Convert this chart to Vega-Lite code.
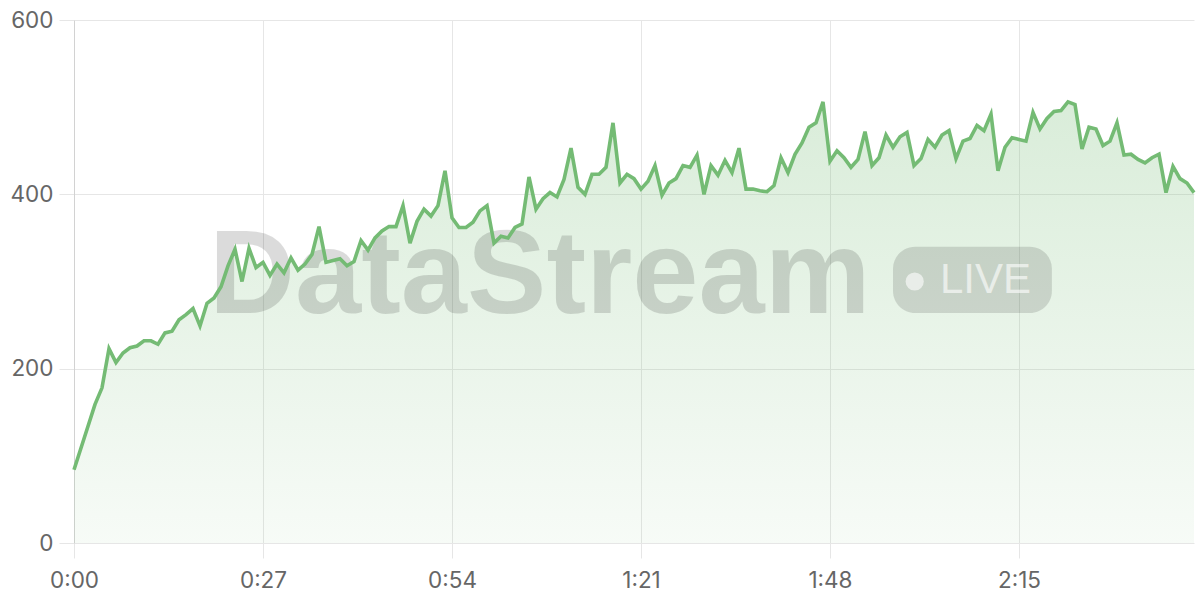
{
  "$schema": "https://vega.github.io/schema/vega-lite/v6.json",
  "width": 1120,
  "height": 523,
  "autosize": {"type": "none"},
  "padding": {"left": 74, "top": 20, "right": 6, "bottom": 57},
  "background": "#ffffff",
  "config": {
    "view": {"stroke": null},
    "axis": {
      "labelFont": "Inter",
      "labelFontSize": 22.5,
      "labelColor": "#666666",
      "gridColor": "#e6e6e6",
      "tickColor": "#e6e6e6",
      "tickSize": 15,
      "labelFlush": false,
      "labelOverlap": false,
      "title": null
    }
  },
  "datasets": {
    "series": [
      {"t":0,"v":84},{"t":1,"v":109},{"t":2,"v":134},{"t":3,"v":159},{"t":4,"v":178},{"t":5,"v":223},{"t":6,"v":207},{"t":7,"v":218},{"t":8,"v":224},{"t":9,"v":226},
      {"t":10,"v":232},{"t":11,"v":232},{"t":12,"v":228},{"t":13,"v":241},{"t":14,"v":243},{"t":15,"v":256},{"t":16,"v":262},{"t":17,"v":269},{"t":18,"v":249},{"t":19,"v":275},
      {"t":20,"v":281},{"t":21,"v":294},{"t":22,"v":318},{"t":23,"v":337},{"t":24,"v":300},{"t":25,"v":338},{"t":26,"v":316},{"t":27,"v":322},{"t":28,"v":307},{"t":29,"v":320},
      {"t":30,"v":310},{"t":31,"v":327},{"t":32,"v":313},{"t":33,"v":320},{"t":34,"v":331},{"t":35,"v":363},{"t":36,"v":322},{"t":37,"v":324},{"t":38,"v":326},{"t":39,"v":318},
      {"t":40,"v":323},{"t":41,"v":347},{"t":42,"v":336},{"t":43,"v":350},{"t":44,"v":358},{"t":45,"v":363},{"t":46,"v":363},{"t":47,"v":387},{"t":48,"v":344},{"t":49,"v":369},
      {"t":50,"v":383},{"t":51,"v":375},{"t":52,"v":387},{"t":53,"v":427},{"t":54,"v":373},{"t":55,"v":362},{"t":56,"v":362},{"t":57,"v":368},{"t":58,"v":381},{"t":59,"v":387},
      {"t":60,"v":344},{"t":61,"v":352},{"t":62,"v":350},{"t":63,"v":362},{"t":64,"v":366},{"t":65,"v":420},{"t":66,"v":383},{"t":67,"v":395},{"t":68,"v":402},{"t":69,"v":397},
      {"t":70,"v":417},{"t":71,"v":453},{"t":72,"v":408},{"t":73,"v":400},{"t":74,"v":423},{"t":75,"v":423},{"t":76,"v":431},{"t":77,"v":482},{"t":78,"v":413},{"t":79,"v":423},
      {"t":80,"v":418},{"t":81,"v":406},{"t":82,"v":415},{"t":83,"v":433},{"t":84,"v":399},{"t":85,"v":413},{"t":86,"v":418},{"t":87,"v":433},{"t":88,"v":431},{"t":89,"v":445},
      {"t":90,"v":400},{"t":91,"v":433},{"t":92,"v":422},{"t":93,"v":439},{"t":94,"v":425},{"t":95,"v":453},{"t":96,"v":406},{"t":97,"v":406},{"t":98,"v":404},{"t":99,"v":403},
      {"t":100,"v":410},{"t":101,"v":442},{"t":102,"v":425},{"t":103,"v":446},{"t":104,"v":459},{"t":105,"v":477},{"t":106,"v":482},{"t":107,"v":506},{"t":108,"v":438},{"t":109,"v":450},
      {"t":110,"v":442},{"t":111,"v":431},{"t":112,"v":440},{"t":113,"v":472},{"t":114,"v":433},{"t":115,"v":442},{"t":116,"v":468},{"t":117,"v":454},{"t":118,"v":466},{"t":119,"v":471},
      {"t":120,"v":433},{"t":121,"v":441},{"t":122,"v":463},{"t":123,"v":454},{"t":124,"v":468},{"t":125,"v":473},{"t":126,"v":441},{"t":127,"v":461},{"t":128,"v":464},{"t":129,"v":479},
      {"t":130,"v":473},{"t":131,"v":492},{"t":132,"v":427},{"t":133,"v":454},{"t":134,"v":465},{"t":135,"v":463},{"t":136,"v":461},{"t":137,"v":494},{"t":138,"v":475},{"t":139,"v":487},
      {"t":140,"v":495},{"t":141,"v":496},{"t":142,"v":506},{"t":143,"v":503},{"t":144,"v":452},{"t":145,"v":477},{"t":146,"v":475},{"t":147,"v":456},{"t":148,"v":461},{"t":149,"v":482},
      {"t":150,"v":445},{"t":151,"v":446},{"t":152,"v":440},{"t":153,"v":436},{"t":154,"v":442},{"t":155,"v":446},{"t":156,"v":402},{"t":157,"v":432},{"t":158,"v":418},{"t":159,"v":413},
      {"t":160,"v":402}
    ],
    "mark": [{"label": "DataStream", "badge": "LIVE"}]
  },
  "layer": [
    {
      "data": {"name": "series"},
      "mark": {
        "type": "area",
        "interpolate": "linear",
        "color": {
          "gradient": "linear",
          "x1": 1, "y1": 1, "x2": 1, "y2": 0,
          "stops": [
            {"offset": 0, "color": "rgba(116,187,116,0.06)"},
            {"offset": 1, "color": "rgba(116,187,116,0.27)"}
          ]
        }
      },
      "encoding": {
        "x": {
          "field": "t", "type": "quantitative",
          "scale": {"domain": [0, 160], "nice": false, "zero": false},
          "axis": {
            "values": [0, 27, 54, 81, 108, 135],
            "domain": false,
            "labelPadding": 11,
            "labelExpr": "floor(datum.value/60) + ':' + (datum.value % 60 < 10 ? '0' : '') + (datum.value % 60)"
          }
        },
        "y": {
          "field": "v", "type": "quantitative",
          "scale": {"domain": [0, 600], "nice": false},
          "axis": {
            "values": [0, 200, 400, 600],
            "domain": true,
            "domainColor": "#d2d2d2",
            "labelPadding": 6
          }
        }
      }
    },
    {
      "data": {"name": "mark"},
      "mark": {"type": "text", "font": "Liberation Sans", "fontWeight": "bold", "fontSize": 119, "align": "left", "baseline": "alphabetic", "color": "rgba(0,0,0,0.14)"},
      "encoding": {
        "x": {"datum": 19.3, "type": "quantitative"},
        "y": {"datum": 264, "type": "quantitative"},
        "text": {"field": "label"}
      }
    },
    {
      "data": {"name": "mark"},
      "mark": {"type": "rect", "cornerRadius": 22, "color": "rgba(0,0,0,0.13)"},
      "encoding": {
        "x": {"datum": 117, "type": "quantitative"},
        "x2": {"datum": 139.7},
        "y": {"datum": 340, "type": "quantitative"},
        "y2": {"datum": 264}
      }
    },
    {
      "data": {"name": "mark"},
      "mark": {"type": "point", "shape": "circle", "filled": true, "size": 330, "color": "#ffffff", "opacity": 0.6},
      "encoding": {
        "x": {"datum": 120.1, "type": "quantitative"},
        "y": {"datum": 300, "type": "quantitative"}
      }
    },
    {
      "data": {"name": "mark"},
      "mark": {"type": "text", "font": "Liberation Sans", "fontSize": 42, "align": "left", "baseline": "alphabetic", "color": "#ffffff", "opacity": 0.6},
      "encoding": {
        "x": {"datum": 123.7, "type": "quantitative"},
        "y": {"datum": 287, "type": "quantitative"},
        "text": {"field": "badge"}
      }
    },
    {
      "data": {"name": "series"},
      "mark": {"type": "line", "color": "#74bb74", "strokeWidth": 3.6, "strokeJoin": "miter", "interpolate": "linear"},
      "encoding": {
        "x": {"field": "t", "type": "quantitative"},
        "y": {"field": "v", "type": "quantitative"}
      }
    }
  ]
}
